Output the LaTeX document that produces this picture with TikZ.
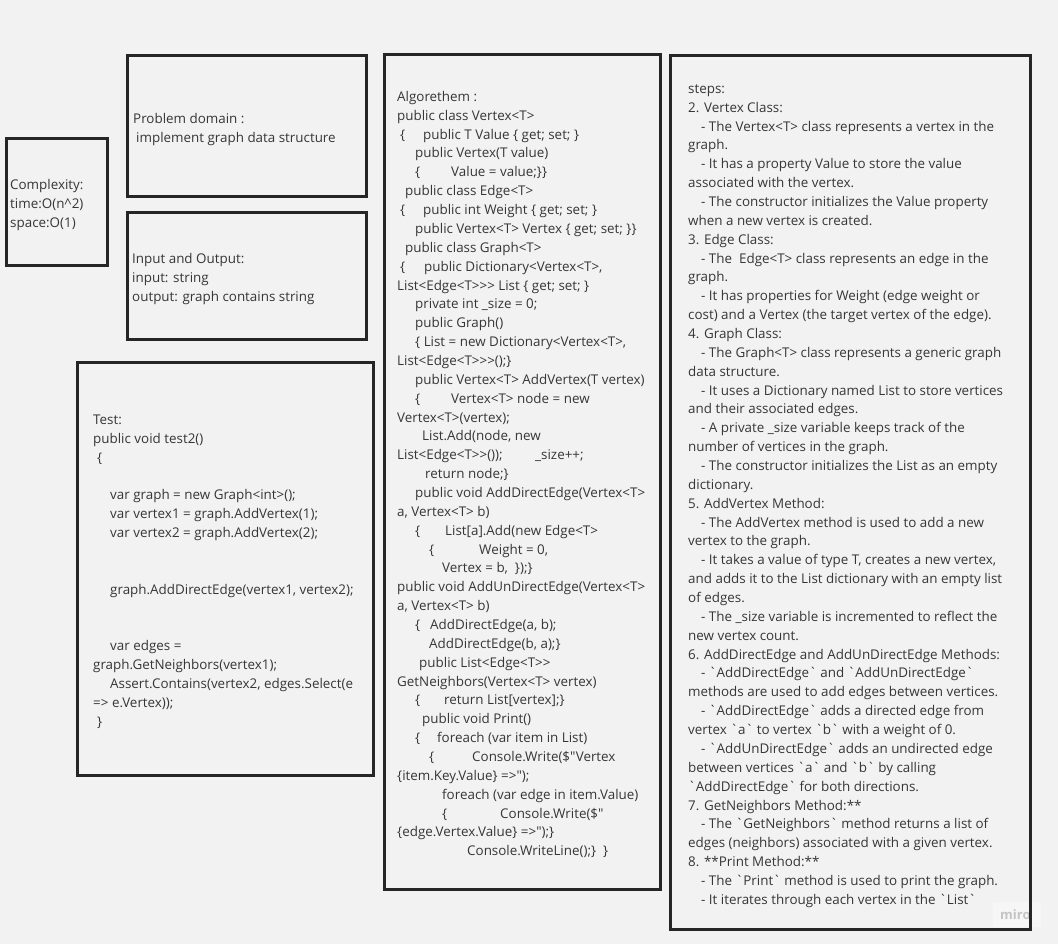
\documentclass[tikz,border=0pt]{standalone}
\usepackage{fontspec}
\setmainfont{Open Sans}[Ligatures=TeXOff]
\usepackage{tikz}
\usetikzlibrary{positioning}
\definecolor{bg}{HTML}{F2F2F2}
\definecolor{boxline}{HTML}{262626}
\definecolor{ink}{HTML}{363636}
\definecolor{mirotext}{HTML}{C4C4C4}
\definecolor{miroback}{HTML}{F6F6F6}
\newcommand{\padto}[2]{\makebox[#1pt][l]{#2}}
\tikzset{
  panel/.style={draw=boxline, line width=3pt},
  memo/.style={anchor=base west, inner sep=0pt, align=left, text=ink,
    font=\fontsize{13.4}{18.86}\selectfont}
}

\begin{document}
\begin{tikzpicture}[x=1pt, y=-1pt]
% Canvas
\useasboundingbox (0,0) rectangle (1058,944);
\fill [bg] (0,0) rectangle (1058,944);
% Watermark
\fill [miroback] (993,902) rectangle (1041,927);
\node (miro) [anchor=base west, inner sep=0pt, text=mirotext, font=\fontsize{13}{14}\selectfont\bfseries] at (1000,919) {miro};
% Boxes
\draw [panel] (6,139) rectangle (107.5,265.5);
\draw [panel] (127,55.5) rectangle (366,197);
\draw [panel] (127,212.5) rectangle (366,339.5);
\draw [panel] (77,362.5) rectangle (373.5,775);
\draw [panel] (384,55) rectangle (660.5,889.5);
\draw [panel] (670.5,55.5) rectangle (1030.5,929.5);
% Labels (anchored at the baseline of the last line)
\node (complexity) [memo] at (10,227.5) {Complexity:\\ time:O(n\textasciicircum 2)\\ space:O(1)};
\node (domain) [memo] at (133,142.5) {Problem domain :\\ \hspace*{3pt}implement graph data structure};
\node (inout) [memo] at (132,301.3) {Input and Output:\\ input: string\\ output: graph contains string};
\node (test) [memo] at (93,726.2) {Test:\\
public void test2()\\
\hspace*{4pt}\{\\
\strut\\
\hspace*{17pt}var graph = new Graph<int>();\\
\hspace*{17pt}var vertex1 = graph.AddVertex(1);\\
\hspace*{17pt}var vertex2 = graph.AddVertex(2);\\
\strut\\
\strut\\
\hspace*{17pt}graph.AddDirectEdge(vertex1, vertex2);\\
\strut\\
\strut\\
\hspace*{17pt}var edges =\\
graph.GetNeighbors(vertex1);\\
\hspace*{17pt}Assert.Contains(vertex2, edges.Select(e\\
=> e.Vertex));\\
\hspace*{4pt}\}};
\node (algo) [memo] at (397,855.8) {Algorethem :\\
public class Vertex<T>\\
\hspace*{3pt}\padto{23}{\{}public T Value \{ get; set; \}\\
\hspace*{18pt}public Vertex(T value)\\
\hspace*{18pt}\padto{36}{\{}Value = value;\}\}\\
\hspace*{8pt}public class Edge<T>\\
\hspace*{3pt}\padto{23}{\{}public int Weight \{ get; set; \}\\
\hspace*{18pt}public Vertex<T> Vertex \{ get; set; \}\}\\
\hspace*{8pt}public class Graph<T>\\
\hspace*{3pt}\padto{24}{\{}public Dictionary<Vertex<T>,\\
List<Edge<T>>> List \{ get; set; \}\\
\hspace*{18pt}private int \_size = 0;\\
\hspace*{18pt}public Graph()\\
\hspace*{18pt}\{ List = new Dictionary<Vertex<T>,\\
List<Edge<T>>>();\}\\
\hspace*{18pt}public Vertex<T> AddVertex(T vertex)\\
\hspace*{18pt}\padto{36}{\{}Vertex<T> node = new\\
Vertex<T>(vertex);\\
\hspace*{25pt}List.Add(node, new\\
\padto{138}{List<Edge<T>>());}\_size++;\\
\hspace*{28pt}return node;\}\\
\hspace*{18pt}public void AddDirectEdge(Vertex<T>\\
a, Vertex<T> b)\\
\hspace*{18pt}\padto{30}{\{}List{[}a{]}.Add(new Edge<T>\\
\hspace*{32pt}\padto{50}{\{}Weight = 0,\\
\hspace*{45pt}Vertex = b,\ \ \});\}\\
public void AddUnDirectEdge(Vertex<T>\\
a, Vertex<T> b)\\
\hspace*{18pt}\padto{15}{\{}AddDirectEdge(a, b);\\
\hspace*{32pt}AddDirectEdge(b, a);\}\\
\hspace*{22pt}public List<Edge<T>>\\
GetNeighbors(Vertex<T> vertex)\\
\hspace*{18pt}\padto{29}{\{}return List{[}vertex{]};\}\\
\hspace*{25pt}public void Print()\\
\hspace*{18pt}\padto{22}{\{}foreach (var item in List)\\
\hspace*{32pt}\padto{43}{\{}Console.Write(\$"Vertex\\
\{item.Key.Value\} =>");\\
\hspace*{45pt}foreach (var edge in item.Value)\\
\hspace*{45pt}\padto{58}{\{}Console.Write(\$"\\
\{edge.Vertex.Value\} =>");\}\\
\hspace*{70pt}Console.WriteLine();\}\ \ \}};
\node (steps) [memo] at (688,904.3) {steps:\\
2. Vertex Class:\\
\hspace*{13pt}- The Vertex<T> class represents a vertex in the\\
graph.\\
\hspace*{13pt}- It has a property Value to store the value\\
associated with the vertex.\\
\hspace*{13pt}- The constructor initializes the Value property\\
when a new vertex is created.\\
3. Edge Class:\\
\hspace*{13pt}- The\ \ Edge<T> class represents an edge in the\\
graph.\\
\hspace*{13pt}- It has properties for Weight (edge weight or\\
cost) and a Vertex (the target vertex of the edge).\\
4. Graph Class:\\
\hspace*{13pt}- The Graph<T> class represents a generic graph\\
data structure.\\
\hspace*{13pt}- It uses a Dictionary named List to store vertices\\
and their associated edges.\\
\hspace*{13pt}- A private \_size variable keeps track of the\\
number of vertices in the graph.\\
\hspace*{13pt}- The constructor initializes the List as an empty\\
dictionary.\\
5. AddVertex Method:\\
\hspace*{13pt}- The AddVertex method is used to add a new\\
vertex to the graph.\\
\hspace*{13pt}- It takes a value of type T, creates a new vertex,\\
and adds it to the List dictionary with an empty list\\
of edges.\\
\hspace*{13pt}- The \_size variable is incremented to reflect the\\
new vertex count.\\
6. AddDirectEdge and AddUnDirectEdge Methods:\\
\hspace*{13pt}- `AddDirectEdge` and `AddUnDirectEdge`\\
methods are used to add edges between vertices.\\
\hspace*{13pt}- `AddDirectEdge` adds a directed edge from\\
vertex `a` to vertex `b` with a weight of 0.\\
\hspace*{13pt}- `AddUnDirectEdge` adds an undirected edge\\
between vertices `a` and `b` by calling\\
`AddDirectEdge` for both directions.\\
7. GetNeighbors Method:**\\
\hspace*{13pt}- The `GetNeighbors` method returns a list of\\
edges (neighbors) associated with a given vertex.\\
8. **Print Method:**\\
\hspace*{13pt}- The `Print` method is used to print the graph.\\
\hspace*{13pt}- It iterates through each vertex in the `List`};
\end{tikzpicture}
\end{document}
